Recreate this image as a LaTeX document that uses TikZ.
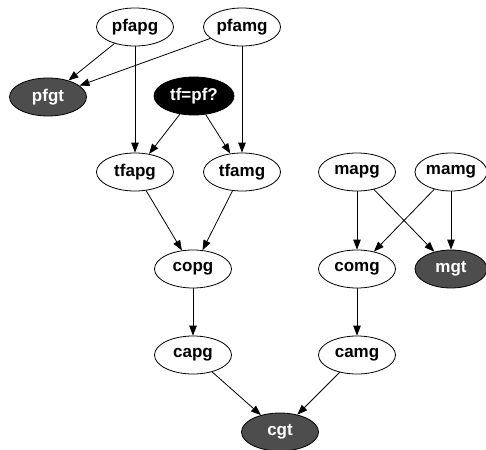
\documentclass[tikz,border=0pt]{standalone}
\usepackage{fontspec}
\setmainfont{Liberation Sans}
\usetikzlibrary{shapes.geometric,arrows.meta}
\definecolor{darkfill}{HTML}{4D4D4D}
\tikzset{
  nd/.style={ellipse, draw=black, line width=0.8pt, minimum width=77pt, minimum height=38pt,
    inner sep=0pt, font=\fontsize{17}{19}\selectfont\bfseries},
  plain/.style={nd, fill=white, text=black},
  goal/.style={nd, fill=darkfill, text=white},
  query/.style={nd, fill=black, text=white, minimum width=80pt},
  edge/.style={draw=black, line width=0.8pt, -{Triangle[length=10pt,width=7.5pt]}}
}
\begin{document}
\begin{tikzpicture}[x=1pt,y=-1pt]
\useasboundingbox (0,0) rectangle (486,449);
% top row
\node[plain] (pfapg) at (135,27) {pfapg};
\node[plain] (pfamg) at (242,27) {pfamg};
% second row
\node[goal] (pfgt) at (48,97) {pfgt};
\node[query] (tfpf) at (194,96) {tf=pf?};
% third row
\node[plain] (tfapg) at (135,172) {tfapg};
\node[plain] (tfamg) at (242,172) {tfamg};
\node[plain] (mapg) at (357,172) {mapg};
\node[plain, minimum width=72pt] (mamg) at (451,172) {mamg};
% fourth row
\node[plain] (copg) at (193,269) {copg};
\node[plain] (comg) at (357,269) {comg};
\node[goal, minimum width=72pt] (mgt) at (451,269) {mgt};
% fifth row
\node[plain] (capg) at (193,355) {capg};
\node[plain] (camg) at (357,355) {camg};
% bottom
\node[goal] (cgt) at (280,432) {cgt};
% connectors
\draw[edge] (pfapg) -- (pfgt);
\draw[edge] (pfapg) -- (tfapg);
\draw[edge] (pfamg) -- (pfgt);
\draw[edge] (pfamg) -- (tfamg);
\draw[edge] (tfpf) -- (tfapg);
\draw[edge] (tfpf) -- (tfamg);
\draw[edge] (tfapg) -- (copg);
\draw[edge] (tfamg) -- (copg);
\draw[edge] (mapg) -- (comg);
\draw[edge] (mapg) -- (mgt);
\draw[edge] (mamg) -- (comg);
\draw[edge] (mamg) -- (mgt);
\draw[edge] (copg) -- (capg);
\draw[edge] (comg) -- (camg);
\draw[edge] (capg) -- (cgt);
\draw[edge] (camg) -- (cgt);
\end{tikzpicture}
\end{document}
